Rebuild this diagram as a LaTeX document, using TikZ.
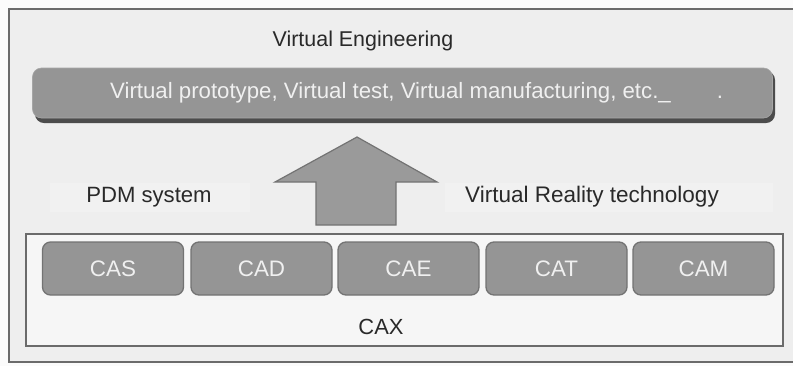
\documentclass[tikz,border=0pt]{standalone}
\usepackage{fontspec}
\setmainfont{Liberation Sans}
\definecolor{pagebg}{gray}{0.985}
\definecolor{framebg}{gray}{0.935}
\definecolor{framedraw}{gray}{0.42}
\definecolor{caxbg}{gray}{0.965}
\definecolor{boxfill}{gray}{0.585}
\definecolor{boxdraw}{gray}{0.45}
\definecolor{boxtext}{gray}{0.94}
\definecolor{darktext}{gray}{0.16}
\tikzset{
  lbl/.style={font=\fontsize{21.5}{24}\selectfont, text=darktext, inner sep=0pt},
  modbox/.style={draw=boxdraw, line width=1.3bp, fill=boxfill, rounded corners=8bp,
    minimum width=141bp, minimum height=53bp, inner sep=0pt,
    font=\fontsize{22.5}{25}\selectfont, text=boxtext},
  tagbox/.style={fill=white, opacity=0.2},
}
\begin{document}
\begin{tikzpicture}[x={(1bp,0)}, y={(0,-1bp)}]
  \useasboundingbox (0,0) rectangle (793,366);
  \fill[pagebg] (0,0) rectangle (793,366);
  % outer frame
  \draw[framedraw, line width=2.2bp, fill=framebg] (9,9) rectangle (805,362);
  % heading
  \node[lbl] (ve) at (363,41) {Virtual Engineering};
  % banner with drop shadow
  \fill[black!70, rounded corners=9bp] (35,71) rectangle (775,123);
  \node[draw=gray!70, line width=0.6bp, fill=boxfill, rounded corners=9bp,
        minimum width=740bp, minimum height=50bp, inner sep=0pt] (banner) at (402.5,93) {};
  \node[lbl, font=\fontsize{22.3}{25}\selectfont, text=boxtext, anchor=west] (bannertxt) at (110,93)
    {Virtual prototype, Virtual test, Virtual manufacturing, etc.\_\hspace{46bp}.};
  % side labels on faint plates
  \fill[tagbox] (50,183) rectangle (250,212);
  \fill[tagbox] (445,183) rectangle (773,212);
  \node[lbl, font=\fontsize{22.2}{25}\selectfont] (pdm) at (149,197) {PDM system};
  \node[lbl, font=\fontsize{22.6}{25}\selectfont] (vr) at (592,197) {Virtual Reality technology};
  % upward arrow from CAX to the banner
  \coordinate (tip) at (357,137);
  \draw[boxdraw, line width=1.2bp, fill=boxfill!95!white, line join=miter]
    (tip) -- (437,182) -- (396,182) -- (396,225) -- (316,225) -- (316,182) -- (275,182) -- cycle;
  % CAX container
  \draw[framedraw, line width=1.8bp, fill=caxbg] (26,234) rectangle (783,346);
  \node[modbox] (cas) at (113,268.5) {CAS};
  \node[modbox] (cad) at (261.5,268.5) {CAD};
  \node[modbox] (cae) at (408.5,268.5) {CAE};
  \node[modbox] (cat) at (556.5,268.5) {CAT};
  \node[modbox] (cam) at (703.5,268.5) {CAM};
  \node[lbl, font=\fontsize{22}{25}\selectfont] (cax) at (381,327) {CAX};
\end{tikzpicture}
\end{document}
